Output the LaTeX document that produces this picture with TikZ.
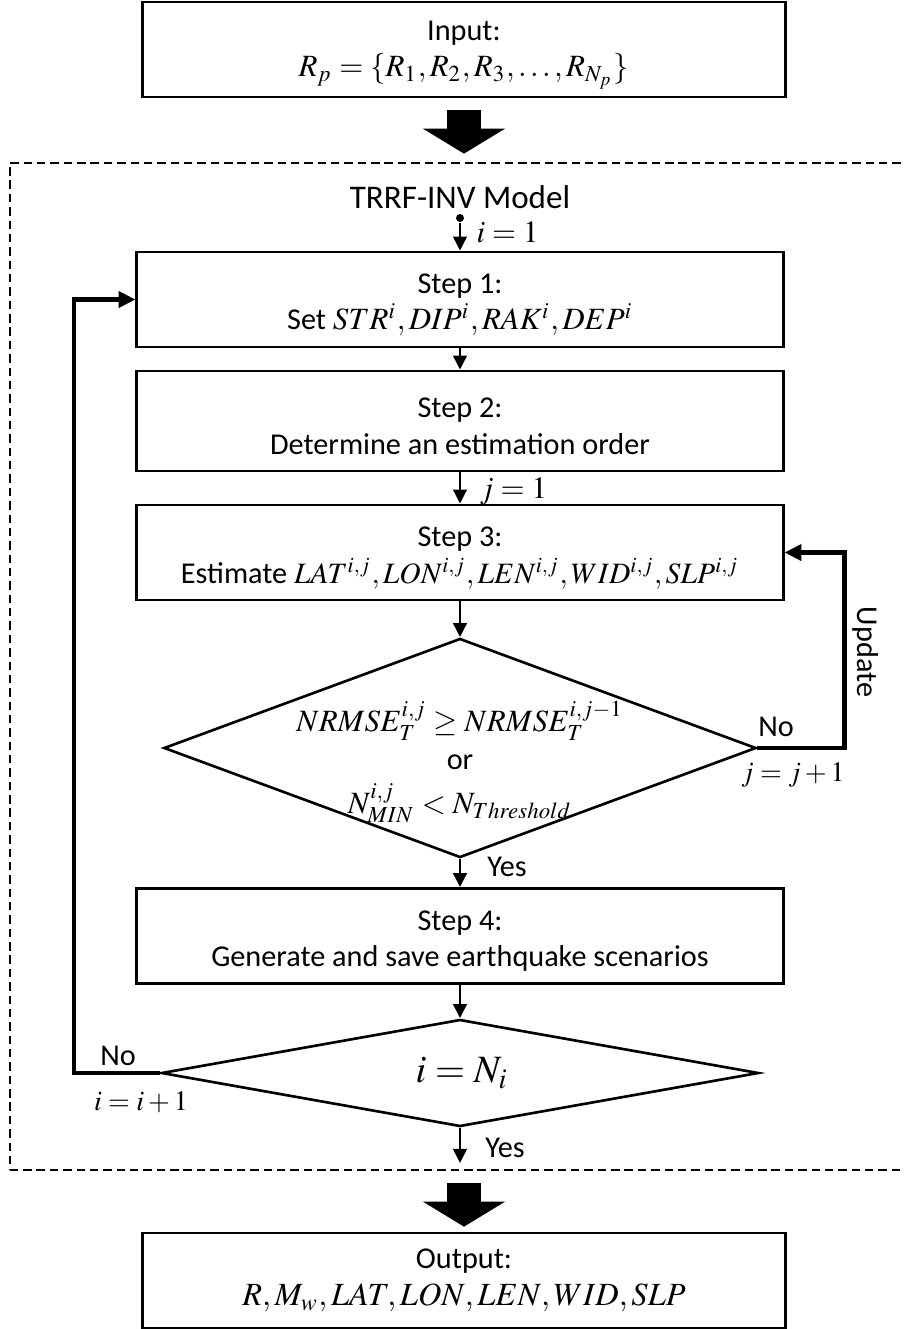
\documentclass[tikz,border=0pt]{standalone}
\usepackage{mathptmx}
\usepackage{fontspec}
\setmainfont{Carlito}
\usetikzlibrary{arrows.meta,shapes.geometric}

% math at the size used inside the boxes
\newcommand\mth[2][8.8]{{\fontsize{#1}{10}\selectfont$#2$}}
% extra room above the first line of a box
\newcommand\lift{\rule{0pt}{8.6pt}}

\begin{document}
\begin{tikzpicture}[x=0.01cm,y=-0.01cm,
  txt/.style={font=\fontsize{8.6}{10.4}\selectfont},
  lbl/.style={font=\fontsize{8}{9}\selectfont, inner sep=0pt},
  stepbox/.style={txt, draw, line width=0.75pt, minimum width=6.46cm,
    minimum height=0.95cm, align=center, inner sep=0pt},
  iobox/.style={stepbox, minimum width=6.43cm},
  decision/.style={diamond, draw, line width=0.75pt, inner sep=0pt, aspect=2.7},
  frame/.style={draw, dashed, dash pattern=on 2.4pt off 1.4pt, line width=0.6pt,
    minimum width=9.1cm, minimum height=10.07cm, inner sep=0pt},
  arr/.style={line width=0.85pt, -{Triangle[length=4pt,width=3.8pt]}},
  backarr/.style={line width=1.2pt, -{Triangle[length=4.8pt,width=4.5pt]}},
  bigarr/.style={line width=0.33cm, -{Triangle[length=0.25cm,width=0.81cm]}},
]
\useasboundingbox (0,0) rectangle (904,1329);
\clip (0,0) rectangle (904,1329);

% input, model frame and output
\node[iobox] (in) at (464,49.5) {\lift Input:\\ \mth{R_p=\{R_1,R_2,R_3,\ldots,R_{N_p}\}}};
\node[frame] (frame) at (465,666.5) {};
\node[txt, font=\fontsize{9.4}{11}\selectfont] (title) at (460,197) {TRRF-INV Model};
\node[iobox] (out) at (464,1280.5) {Output:\\ \mth[9.2]{R,M_w,LAT,LON,LEN,WID,SLP}};

% steps of the model
\node[circle, fill, inner sep=0pt, minimum size=0.08cm] (start) at (460,218) {};
\node[stepbox] (s1) at (460,299.5) {\lift Step 1:\\ Set \mth{STR^i,DIP^i,RAK^i,DEP^i}};
\node[stepbox, minimum height=1.0cm] (s2) at (460,421) {\lift Step 2:\\ Determine an estimation order};
\node[stepbox] (s3) at (460,552.5) {\lift Step 3:\\ Estimate \mth[8.4]{LAT^{i,j},LON^{i,j},LEN^{i,j},WID^{i,j},SLP^{i,j}}};
\node[decision, minimum width=5.92cm, minimum height=2.19cm] (d1) at (460,748) {};
\node[txt, align=center] (d1t) at (460,762)
  {\mth{NRMSE_T^{i,j}\geq NRMSE_T^{i,j-1}}\\[0.5pt] or\\[2pt] \mth{N_{MIN}^{i,j}<N_{Threshold}}};
\node[stepbox] (s4) at (460,936) {\lift Step 4:\\ Generate and save earthquake scenarios};
\node[decision, minimum width=5.97cm, minimum height=1.07cm] (d2) at (460,1073) {};
\node[font=\fontsize{11}{13}\selectfont] (d2t) at (462,1073) {$i=N_i$};
\coordinate (end) at (460,1163);

% main flow
\draw[arr] (start) -- (s1.north);
\draw[arr] (s1) -- (s2);
\draw[arr] (s2) -- (s3);
\draw[arr] (s3) -- (d1.north);
\draw[arr] (d1.south) -- (s4.north);
\draw[arr] (s4) -- (d2.north);
\draw[arr] (d2.south) -- (end);

% block arrows into and out of the model
\draw[bigarr, shorten <=0.12cm, shorten >=0.08cm] (in.south) -- (in.south |- frame.north);
\draw[bigarr, shorten <=0.12cm, shorten >=0.05cm] (out.north |- frame.south) -- (out.north);

% feedback loops
\draw[backarr] (d1.east) -- ++(87,0) |- (s3.east);
\draw[backarr] (d2.west) -- ++(-86,0) |- (s1.west);

% connector labels
\node[lbl, anchor=west, font=\fontsize{8.8}{10}\selectfont] (li1) at (476,232) {$i=1$};
\node[lbl, anchor=west, font=\fontsize{8.8}{10}\selectfont] (lj1) at (479,491) {$j=1$};
\node[txt] (yes1) at (507,867) {Yes};
\node[txt] (yes2) at (505,1148) {Yes};
\node[txt] (no1) at (776,727) {No};
\node[lbl] (jinc) at (793,775) {$j=j+1$};
\node[txt, rotate=-90] (upd) at (866,652) {Update};
\node[txt] (no2) at (118,1056) {No};
\node[lbl] (iinc) at (141,1102) {$i=i+1$};
\end{tikzpicture}
\end{document}
